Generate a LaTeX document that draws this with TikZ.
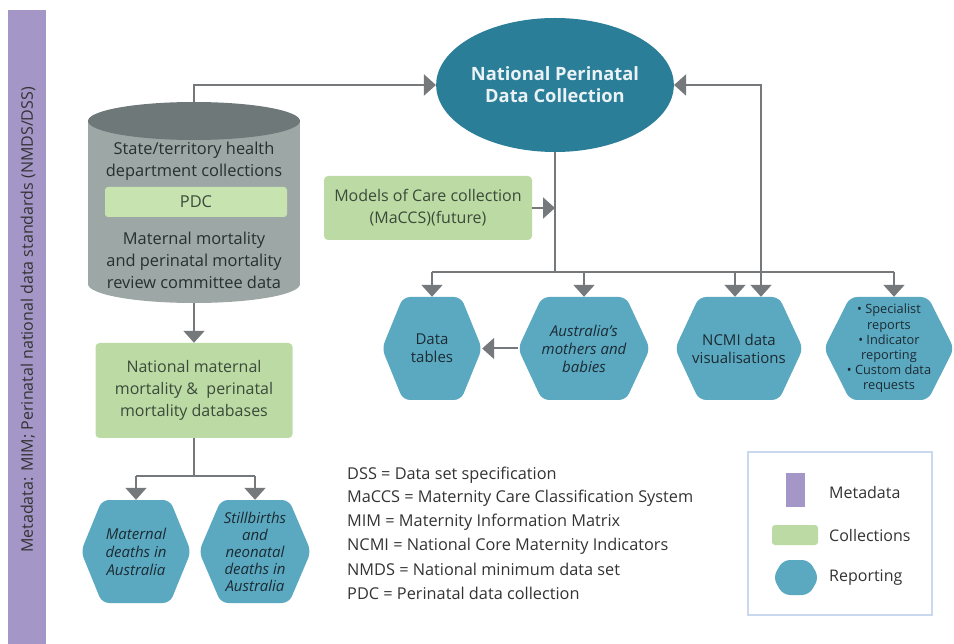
\documentclass[tikz,border=0pt]{standalone}
\usepackage{fontspec}
\setmainfont{Open Sans}
\usetikzlibrary{arrows.meta,calc,shapes.geometric}
\definecolor{purplec}{HTML}{A596C8}
\definecolor{greenc}{HTML}{BCDBA4}
\definecolor{pdcc}{HTML}{C6E3B0}
\definecolor{hexc}{HTML}{5BA9C1}
\definecolor{npdcc}{HTML}{2B7E98}
\definecolor{cylbody}{HTML}{9DA7A5}
\definecolor{cyltop}{HTML}{6F7879}
\definecolor{connc}{HTML}{76797B}
\definecolor{legb}{HTML}{C9D8EE}
\definecolor{htext}{HTML}{1C2B33}
\definecolor{gtext}{HTML}{3B4A3A}
\definecolor{ctext}{HTML}{263030}
\definecolor{atext}{HTML}{333333}
\tikzset{
  conn/.style={draw=connc, line width=2pt},
  arr/.style={conn, -{Triangle[width=21pt,length=12pt]}},
  greenbox/.style={fill=greenc, rounded corners=4pt, text=gtext, align=center, inner sep=0pt,
    font=\fontsize{16}{22}\selectfont},
  hextext/.style={text=htext, align=center, inner sep=0pt, font=\fontsize{15}{18}\selectfont},
  hexital/.style={font=\itshape\fontsize{15}{18}\selectfont},
  cyltext/.style={text=ctext, align=center, inner sep=0pt, font=\fontsize{16.4}{22}\selectfont},
  abbr/.style={text=atext, anchor=west, inner sep=0pt, font=\fontsize{16.3}{19}\selectfont},
  legtext/.style={text=atext, anchor=west, inner sep=0pt, font=\fontsize{16}{19}\selectfont},
}
% name, x, y, w, h, inset, node options, text
\newcommand\hexnode[8]{%
  \fill[hexc, rounded corners=7pt] (#2,{#3-#5/2}) -- ({#2+#4/2-#6},{#3-#5/2}) -- ({#2+#4/2},#3)
    -- ({#2+#4/2-#6},{#3+#5/2}) -- ({#2-#4/2+#6},{#3+#5/2}) -- ({#2-#4/2},#3)
    -- ({#2-#4/2+#6},{#3-#5/2}) -- cycle;
  \node[hextext, minimum width=#4pt, minimum height=#5pt, #7] (#1) at (#2,#3) {#8};}
\begin{document}
\begin{tikzpicture}[x=1pt,y=-1pt]
\useasboundingbox (0,0) rectangle (954,644);
% metadata bar
\node[fill=purplec, minimum width=38pt, minimum height=634pt, inner sep=0pt] (bar) at (27,327) {};
\node[rotate=90, text=atext, font=\fontsize{16}{19}\selectfont, inner sep=0pt] (bartext) at (28,320)
  {Metadata: MIM; Perinatal national data standards (NMDS/DSS)};
% cylinder
\fill[cylbody] (88,121) rectangle (300,284);
\fill[cylbody] (194,284) ellipse [x radius=106, y radius=19];
\fill[cyltop] (194,121) ellipse [x radius=106, y radius=19];
\node[minimum width=212pt, minimum height=201pt, inner sep=0pt] (cyl) at (194,202.5) {};
\node[cyltext] (cyl1) at (194,161) {State/territory health\\department collections};
\node[fill=pdcc, rounded corners=3pt, minimum width=182pt, minimum height=30pt, inner sep=0pt,
  text=gtext, font=\fontsize{16.4}{19}\selectfont] (pdc) at (196,202) {PDC};
\node[cyltext] (cyl2) at (194,260) {Maternal mortality\\and perinatal mortality\\review committee data};
% NPDC ellipse
\node[ellipse, fill=npdcc, minimum width=226pt, minimum height=134pt, inner sep=0pt,
  text=white!90!npdcc, align=center, font=\bfseries\fontsize{18.3}{22}\selectfont] (npdc) at (555,85)
  {National Perinatal\\Data Collection};
% green boxes
\node[greenbox, minimum width=208pt, minimum height=64pt] (moc) at (428,208)
  {Models of Care collection\\(MaCCS)(future)};
\node[greenbox, minimum width=197pt, minimum height=95pt] (nmm) at (194,390.5)
  {National maternal\\mortality \&\ \ perinatal\\mortality databases};
% hexagons
\hexnode{dt}{432}{348.5}{100}{103}{21}{}{Data\\tables}
\hexnode{aus}{584}{348.5}{132}{103}{24}{hexital}{Australia’s\\mothers and\\babies}
\hexnode{ncmi}{739}{348.5}{128}{103}{24}{}{NCMI data\\visualisations}
\hexnode{spec}{889}{348.5}{130}{103}{26}{font=\fontsize{12.8}{15.2}\selectfont}{• Specialist\\reports\\• Indicator\\reporting\\• Custom data\\requests}
\hexnode{mat}{136}{551.5}{110}{103}{21}{hexital}{Maternal\\deaths in\\Australia}
\hexnode{still}{255}{551.5}{112}{103}{22}{font=\itshape\fontsize{15}{17}\selectfont}{Stillbirths\\and\\neonatal\\deaths in\\Australia}
% connectors
\coordinate (bus) at (555,272);
\coordinate (bus2) at (194,476);
\draw[arr] (cyl.north) |- (npdc.west);
\draw[conn, {Triangle[width=21pt,length=12pt]}-{Triangle[width=21pt,length=12pt]}]
  (npdc.east) -| ($(ncmi.north)+(22,0)$);
\draw[conn] (npdc.south) -- (bus);
\draw[arr] (moc.east) -- (moc.east -| bus);
\draw[conn] (dt.north |- bus) -- ($(spec.north |- bus)+(5,0)$);
\draw[arr] (dt.north |- bus) -- (dt.north);
\draw[arr] (aus.north |- bus) -- (aus.north);
\draw[arr] ($(ncmi.north |- bus)+(-4,0)$) -- ($(ncmi.north)+(-4,0)$);
\draw[arr] ($(spec.north |- bus)+(5,0)$) -- ($(spec.north)+(5,0)$);
\draw[arr] (aus.west) -- (dt.east);
\draw[arr] (cyl.south) -- (nmm.north);
\draw[conn] (nmm.south) -- (bus2);
\draw[conn] (mat.north |- bus2) -- (still.north |- bus2);
\draw[arr] (mat.north |- bus2) -- (mat.north);
\draw[arr] (still.north |- bus2) -- (still.north);
% abbreviations
\node[abbr] (ab1) at (347,475) {DSS = Data set specification};
\node[abbr] (ab2) at (347,498.5) {MaCCS = Maternity Care Classification System};
\node[abbr] (ab3) at (347,522) {MIM = Maternity Information Matrix};
\node[abbr] (ab4) at (347,546) {NCMI = National Core Maternity Indicators};
\node[abbr] (ab5) at (347,569.5) {NMDS = National minimum data set};
\node[abbr] (ab6) at (347,593) {PDC = Perinatal data collection};
% legend
\node[draw=legb, line width=1.3pt, fill=white, minimum width=184pt, minimum height=163pt, inner sep=0pt] (legend) at (840,533.5) {};
\node[fill=purplec, minimum width=19pt, minimum height=34pt, inner sep=0pt] (lgmeta) at (795.5,490) {};
\node[legtext] (lgmetat) at (829,492) {Metadata};
\node[fill=greenc, rounded corners=3pt, minimum width=46pt, minimum height=20pt, inner sep=0pt] (lgcoll) at (795,535) {};
\node[legtext] (lgcollt) at (829,535) {Collections};
\hexnode{lgrep}{796}{577.5}{46}{35}{10}{}{}
\node[legtext] (lgrept) at (829,578) {Reporting};
\end{tikzpicture}
\end{document}
